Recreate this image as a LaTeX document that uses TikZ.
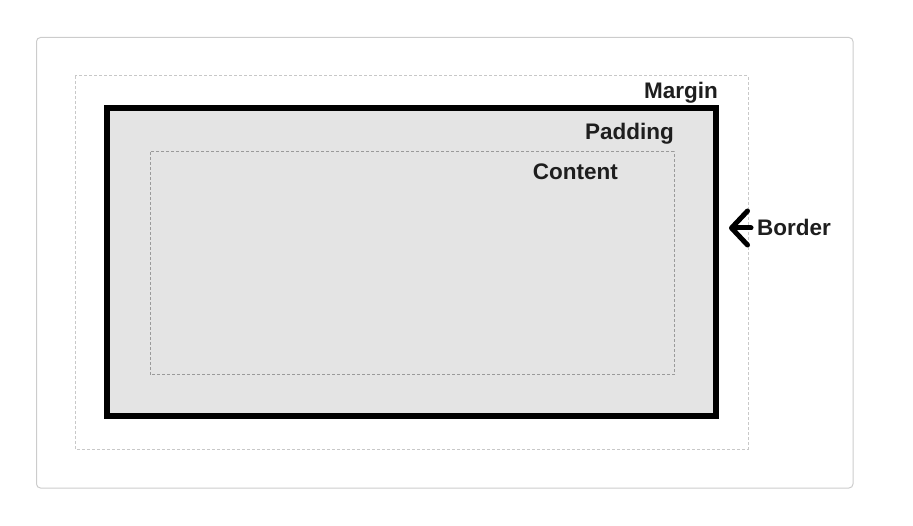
\documentclass[tikz,border=0pt]{standalone}
\usepackage{fontspec}
\setmainfont{Liberation Sans}
\usetikzlibrary{arrows.meta}
\definecolor{cardgray}{HTML}{CCCCCC}
\definecolor{margingray}{HTML}{C8C8C8}
\definecolor{contentgray}{HTML}{9A9A9A}
\definecolor{padfill}{HTML}{E4E4E4}
\definecolor{labelink}{HTML}{1E1E1E}
\begin{document}
\begin{tikzpicture}[x=1pt,y=-1pt,
    lbl/.style={font=\bfseries\fontsize{22.5}{26}\selectfont,text=labelink,inner sep=0pt},
    dashbox/.style={line width=1pt,dash pattern=on 3pt off 2pt}]
      \useasboundingbox (0,0) rectangle (913,526);
      \draw[cardgray,line width=1pt,rounded corners=4pt] (36.5,37.5) rectangle (853,488);
      \draw[dashbox,margingray] (75,76) rectangle (748,449);
      \draw[line width=6pt,fill=padfill] (107,108) rectangle (716,416);
      \draw[dashbox,contentgray] (150,152) rectangle (674,375);
      \node[lbl,anchor=base east] (margin) at (718,99) {Margin};
      \node[lbl,anchor=base east] (padding) at (674,140) {Padding};
      \node[lbl,anchor=base east] (content) at (618,180) {Content};
      \node[lbl,anchor=base west] (border) at (757,236) {Border};
      \coordinate (tip) at (729,228);
      \draw[line width=5pt,line cap=round,line join=round,-{Straight Barb[length=16pt,width=34pt,line cap=round,line join=round]}] (border.west|-tip) ++(-6,0) -- (tip);
    \end{tikzpicture}
\end{document}
